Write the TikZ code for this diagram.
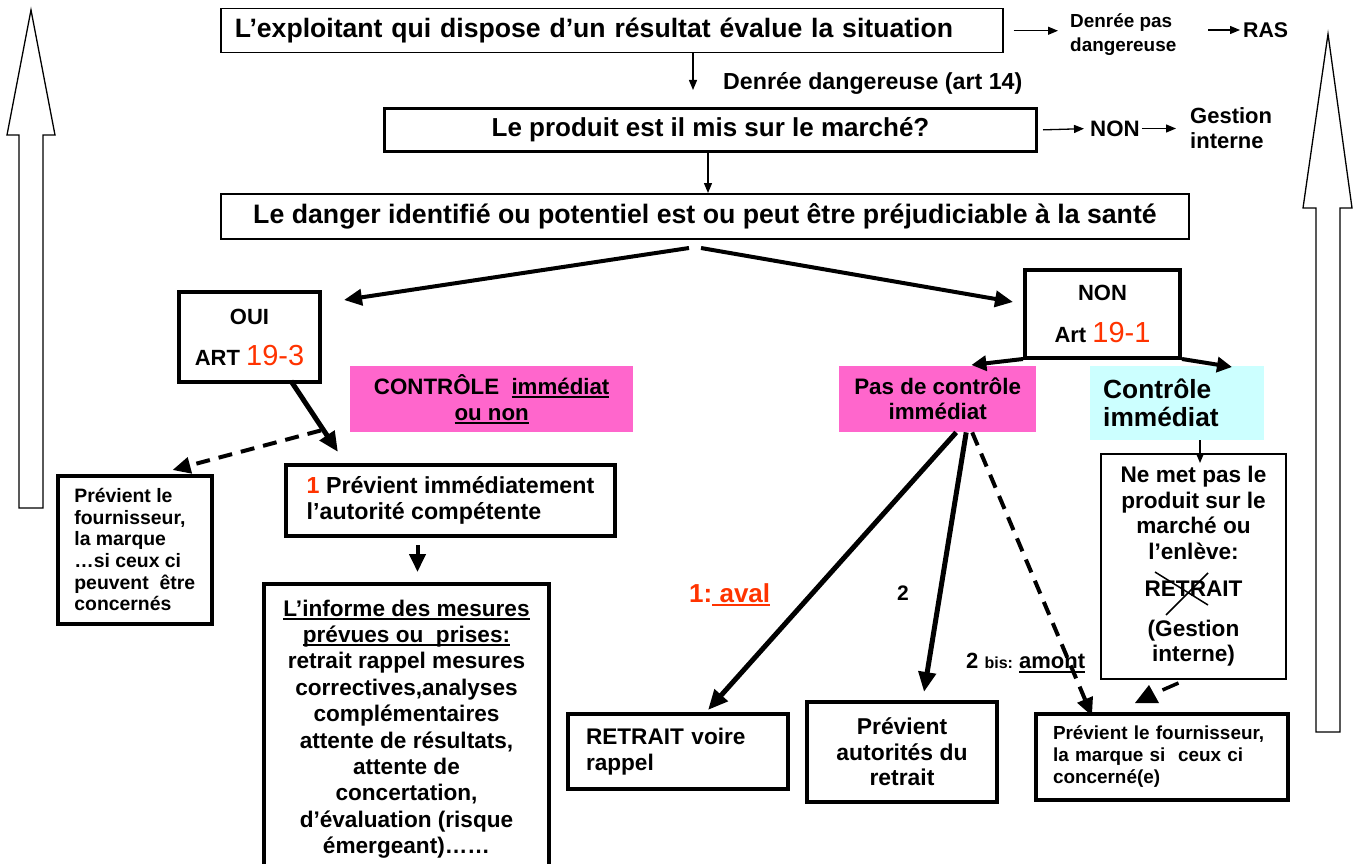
\documentclass[tikz,border=0pt]{standalone}
\usepackage{fontspec}
\setmainfont{Liberation Sans}
\usetikzlibrary{arrows.meta,calc}
\definecolor{pinkbg}{HTML}{FF66CC}
\definecolor{cyanbg}{HTML}{CCFFFF}
\definecolor{redtxt}{HTML}{FF3300}
\newcommand\fsz[2]{\fontsize{#1pt}{#2pt}\selectfont}
\newcommand\uln[1]{\leavevmode\setbox0\hbox{#1}\rlap{\rule[-4pt]{\wd0}{2pt}}\box0}
\begin{document}
\begin{tikzpicture}[x=1pt,y=-1pt,
  bx/.style={draw, line width=#1, inner ysep=0pt, anchor=north west},
  fb/.style={fill=#1, inner sep=0pt, anchor=north west},
  ta/.style={-{Triangle[length=10pt,width=8pt]}, line width=1.3pt},
  tb/.style={-{Triangle[length=18pt,width=16pt]}, line width=4pt},
  tbs/.style={-{Triangle[length=15pt,width=15pt]}, line width=4pt},
  tc/.style={-{Triangle[length=20pt,width=17pt]}, line width=5pt},
  dsh/.style={line width=4pt, dash pattern=on 14pt off 9pt},
  lbl/.style={inner sep=0pt},
  hollow/.style={line width=1.3pt, fill=white, line join=miter},
]
\useasboundingbox (0,0) rectangle (1354,864);

% big hollow arrows
\draw[hollow] (31,10) -- (55,135) -- (43,135) -- (43,508) -- (19,508) -- (19,135) -- (7,135) -- cycle;
\draw[hollow] (1328,34) -- (1352,208) -- (1340,208) -- (1340,732) -- (1316,732) -- (1316,208) -- (1303,208) -- cycle;

% top boxes
\node[bx=1.5pt, minimum width=782pt, minimum height=44pt, text width=754pt, inner xsep=14pt, align=left, font={\bfseries\fsz{26.6}{30}}] (box1) at (220,8) {L’exploitant qui dispose d’un résultat évalue la situation};
\node[bx=3pt, minimum width=652pt, minimum height=43pt, align=center, font={\bfseries\fsz{26}{30}}] (box2) at (383,107) {Le produit est il mis sur le marché?};
\node[bx=2pt, minimum width=968pt, minimum height=45pt, align=center, font={\bfseries\fsz{26.7}{30}}] (box3) at (220,193) {Le danger identifié ou potentiel est ou peut être préjudiciable à la santé};

% side labels
\node[lbl, anchor=west, align=left, font={\bfseries\fsz{18.9}{24}}] (dp) at (1070,35) {Denrée pas\\dangereuse};
\node[lbl, anchor=west, font={\bfseries\fsz{21.3}{24}}] (ras) at (1243,30) {RAS};
\draw[ta, shorten <=10pt, shorten >=12pt] (box1.east) -- (dp.west |- box1.east);
\draw[ta, shorten >=3pt] ([xshift=-35pt]ras.west) -- (ras.west);

\coordinate (c693) at (693,0);
\coordinate (c708) at (708,0);
\draw[ta, shorten >=17pt] (box1.south -| c693) -- (box2.north -| c693);
\node[lbl, anchor=west, font={\bfseries\fsz{23.2}{26}}] (dd) at (723,83) {Denrée dangereuse (art 14)};

\node[lbl, anchor=west, font={\bfseries\fsz{22.3}{26}}] (non0) at (1090,128.5) {NON};
\node[lbl, anchor=west, align=left, font={\bfseries\fsz{22}{25}}] (gest) at (1190,128.5) {Gestion\\interne};
\draw[ta, shorten <=5pt, shorten >=6pt] (box2.east) -- (non0.west);
\draw[ta, shorten <=2pt, shorten >=14pt] (non0.east) -- (gest.west |- non0.east);
\draw[ta] (box2.south -| c708) -- (box3.north -| c708);

% OUI / NON
\node[bx=4pt, minimum width=141pt, minimum height=90pt, align=center, font={\bfseries\fsz{22}{24}}] (oui) at (177,290) {OUI\\[17pt]ART {\mdseries\fsz{29}{24}\color{redtxt}19-3}};
\node[bx=4pt, minimum width=155pt, minimum height=88pt, align=center, font={\bfseries\fsz{22}{24}}] (non) at (1023,268) {NON\\[18pt]Art {\mdseries\fsz{29}{24}\color{redtxt}19-1}};
\draw[tb] ($(box3.south)+(-16,8)$) -- ($(oui.north east)+(22,10)$);
\draw[tb] ($(box3.south)+(-4,8)$) -- ($(non.west)+(-10,-12)$);

% left branch
\node[fb=pinkbg, minimum width=283pt, minimum height=66pt, align=center, font={\bfseries\fsz{22.3}{26}}] (ctrl) at (350,366) {CONTRÔLE\ \ \uln{immédiat}\\\uln{ou non}};
\node[bx=3.5pt, minimum width=154pt, minimum height=148pt, align=left, font={\bfseries\fsz{19.4}{21.6}}] (prev1) at (56,474) {Prévient le\\fournisseur,\\la marque\\…si ceux ci\\peuvent\ \ être\\concernés};
\node[bx=4pt, minimum width=329pt, minimum height=71pt, align=left, font={\bfseries\fsz{23.2}{26}}] (one) at (284,463) {{\color{redtxt}1} Prévient immédiatement\\l’autorité compétente};
\node[bx=4pt, minimum width=285pt, minimum height=290pt, align=center, font={\bfseries\fsz{22.6}{26.4}}] (inform) at (262,582) {\uln{L’informe des mesures}\\\uln{prévues ou\ \ prises:}\\retrait rappel mesures\\correctives,analyses\\complémentaires\\attente de résultats,\\attente de\\concertation,\\d’évaluation (risque\\émergeant)……};
\draw[tc] ($(oui.south east)+(-31,-3)$) -- ($(one.north west)+(54,-11)$);
\draw[dsh, -{Triangle[length=18pt,width=16pt]}] ($(ctrl.south west)+(-29,-2)$) -- ($(prev1.north east)+(-41,-4)$);
\draw[tb] ($(one.south)+(-33,7)$) -- ($(inform.north)+(11,-10)$);

% right branch
\node[fb=pinkbg, minimum width=197pt, minimum height=66pt, align=center, font={\bfseries\fsz{22.4}{25}}] (pas) at (839,366) {Pas de contrôle\\immédiat};
\node[fb=cyanbg, minimum width=174pt, minimum height=74pt, text width=148pt, inner xsep=13pt, align=left, font={\bfseries\fsz{26.3}{28}}] (cy) at (1090,366) {Contrôle\\immédiat};
\draw[tbs] ($(non.south west)+(0,-1)$) -- ($(pas.north east)+(-65,-1)$);
\draw[tbs] ($(non.south east)+(0,-1)$) -- ($(cy.north west)+(142,1)$);

\node[bx=2pt, minimum width=185pt, minimum height=225pt, align=center, font={\bfseries\fsz{22.6}{25.5}}] (nemet) at (1100,453) {Ne met pas le\\produit sur le\\marché ou\\l’enlève:\\[12pt]RETRAIT\\[14pt](Gestion\\interne)};
\draw[line width=1.5pt] ($(nemet.north west)+(55,119)$) -- ($(nemet.north west)+(108,152)$)
  ($(nemet.north west)+(108,120)$) -- ($(nemet.north west)+(66,162)$);
\draw[ta] ($(cy.south west)+(110,0)$) -- ($(nemet.north west)+(100,10)$);

% bottom boxes
\node[bx=4pt, minimum width=220pt, minimum height=75pt, text width=184pt, inner xsep=18pt, align=left, font={\bfseries\fsz{22.6}{26}}] (retrait) at (566,712) {RETRAIT voire\\rappel};
\node[bx=4pt, minimum width=190pt, minimum height=100pt, align=center, font={\bfseries\fsz{22.9}{25.5}}] (prevaut) at (805,700) {Prévient\\autorités du\\retrait};
\node[bx=4pt, minimum width=252pt, minimum height=86pt, text width=218pt, inner xsep=17pt, align=left, font={\bfseries\fsz{18.9}{22}}] (fourn) at (1034,712) {Prévient le fournisseur,\\la marque si\ \ ceux ci\\concerné(e)};

\draw[tc] ($(pas.south)+(18.5,0)$) -- ($(retrait.north)+(30,-2)$);
\draw[tc] ($(pas.south)+(28.5,0)$) -- ($(prevaut.north)+(22,-8)$);
\draw[dsh, -{Triangle[length=18pt,width=16pt]}] ($(pas.south)+(34.5,0)$) -- ($(fourn.north west)+(58,4)$);

% dashed link fournisseur / ne met pas
\draw[line width=3.5pt] ($(nemet.south)+(-15,3)$) -- ($(nemet.south)+(-31,10)$);
\fill ($(fourn.north)+(-13,-27)$) -- ($(fourn.north)+(-3,-9)$) -- ($(fourn.north)+(-27,-9)$) -- cycle;

% labels on connectors
\node[lbl, anchor=west, text=redtxt, font={\bfseries\fsz{26}{28}}] (aval) at (689,595) {1:\uln{\ aval}};
\node[lbl, font={\bfseries\fsz{21}{24}}] (two) at (903,593) {2};
\node[lbl, anchor=west, font={\bfseries\fsz{22}{24}}] (bis) at (966,663) {2 {\fsz{16}{18}bis:}\ \uln{amont}};
\end{tikzpicture}
\end{document}
